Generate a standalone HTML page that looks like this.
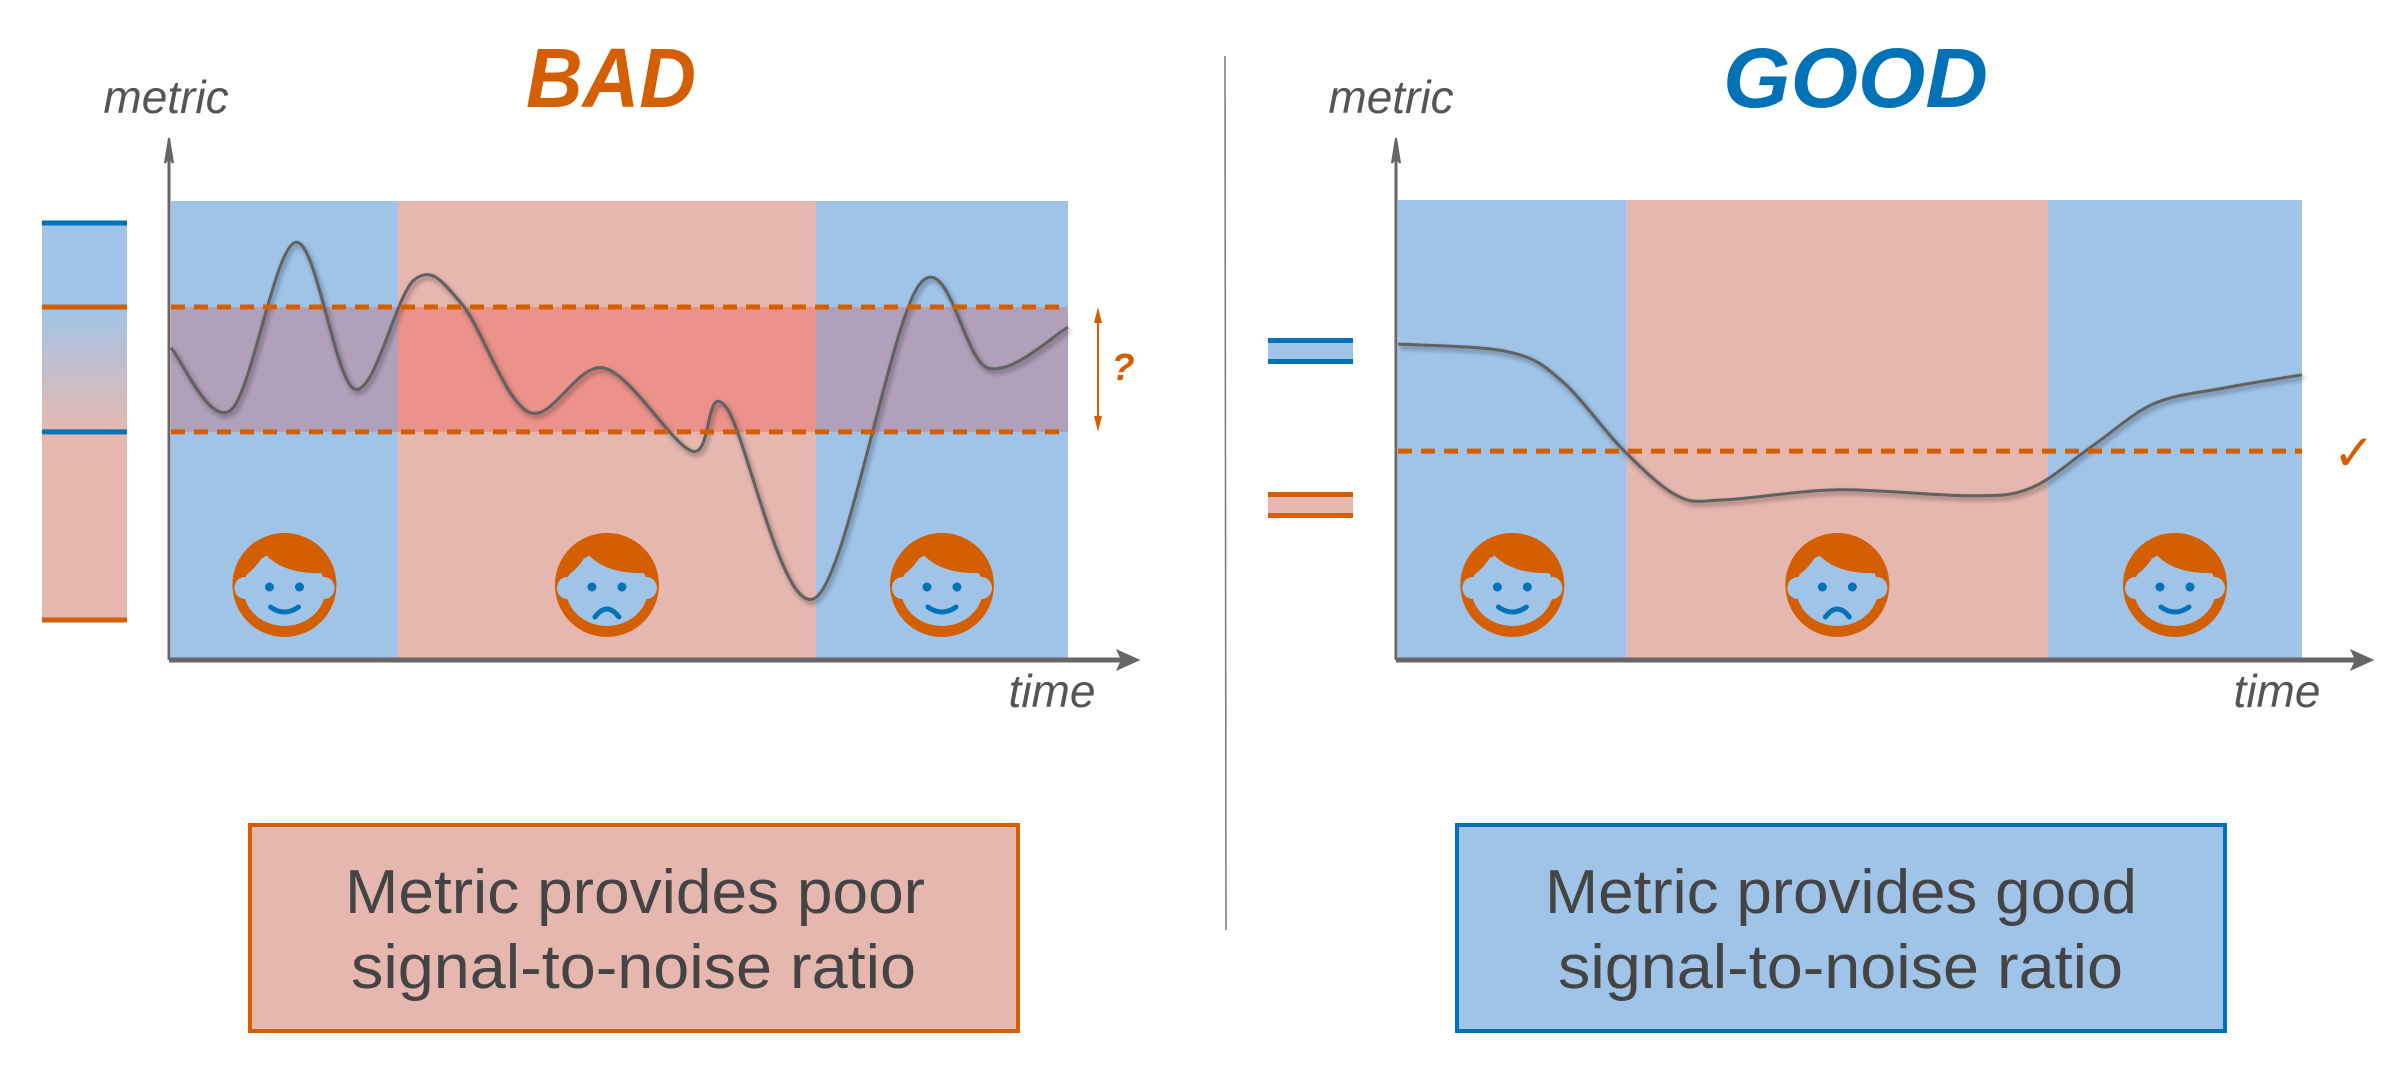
<!DOCTYPE html>
<html><head><meta charset="utf-8"><style>
html,body{margin:0;padding:0;background:#fff;}
svg{display:block;}
text{font-family:"Liberation Sans",sans-serif;}
</style></head><body>
<svg id="fig" width="2389" height="1067" viewBox="0 0 2389 1067" xmlns="http://www.w3.org/2000/svg">
<defs id="defs">
<linearGradient id="lg" x1="0" y1="0" x2="0" y2="1">
<stop offset="0" stop-color="#A0C4E8"/><stop offset="1" stop-color="#E6B7AF"/>
</linearGradient>
<filter id="sh" x="-5%" y="-5%" width="110%" height="110%"><feGaussianBlur stdDeviation="2"/></filter>
</defs>
<g id="root"></g>
<line x1="1225" y1="56" x2="1226" y2="930" stroke="#777" stroke-width="1.5"/>
<text x="526" y="107" font-size="84" font-weight="bold" font-style="italic" fill="#D45F00" textLength="170" lengthAdjust="spacingAndGlyphs">BAD</text>
<text x="1723" y="107" font-size="84" font-weight="bold" font-style="italic" fill="#0072B5" textLength="265" lengthAdjust="spacingAndGlyphs">GOOD</text>
<text x="166" y="113" font-size="46" font-style="italic" fill="#555" text-anchor="middle">metric</text>
<text x="1391" y="113" font-size="46" font-style="italic" fill="#555" text-anchor="middle">metric</text>
<text x="1052" y="707" font-size="46" font-style="italic" fill="#555" text-anchor="middle">time</text>
<text x="2277" y="707" font-size="46" font-style="italic" fill="#555" text-anchor="middle">time</text>
<g>
<rect x="250" y="825" width="768" height="206" fill="#E6B7AF" stroke="#D45F00" stroke-width="4"/>
<text x="345" y="913" font-size="62" fill="#444" textLength="580" lengthAdjust="spacingAndGlyphs">Metric provides poor</text>
<text x="351" y="988" font-size="62" fill="#444" textLength="565" lengthAdjust="spacingAndGlyphs">signal-to-noise ratio</text>
</g>
<g>
<rect x="1457" y="825" width="768" height="206" fill="#A0C4E8" stroke="#0072B5" stroke-width="4"/>
<text x="1545" y="913" font-size="62" fill="#444" textLength="592" lengthAdjust="spacingAndGlyphs">Metric provides good</text>
<text x="1558" y="988" font-size="62" fill="#444" textLength="565" lengthAdjust="spacingAndGlyphs">signal-to-noise ratio</text>
</g>
</svg>
<script>
// BAD chart data (time 0-100, metric 0-100)
const badX = [0, 6.7, 13.9, 20.5, 27.1, 32.4, 39.9, 48.3, 58.1, 61.8, 71.8, 83.4, 91.1, 100];
const badY = [68, 54.5, 91, 59, 82.8, 77.6, 54, 63.6, 45.5, 55.3, 13.5, 81.7, 63.6, 72.5];
const badThresholds = [76.9, 49.7];
// GOOD chart data
const goodX = [0, 12.2, 18.1, 24.9, 30.9, 36, 48.7, 63.2, 70, 76.8, 83.6, 91.3, 100];
const goodY = [68.7, 67, 60.7, 45.7, 35.7, 34.8, 37, 35.7, 37.4, 46.5, 55.7, 59.1, 62];
const goodThreshold = [45.4];
// phase boundaries (time units): good / bad / good
const phases = [0, 25.3, 71.9, 100];
const phaseMood = ['happy', 'sad', 'happy'];

const NS = 'http://www.w3.org/2000/svg';
const root = document.getElementById('root');
const defs = document.getElementById('defs');
function el(tag, attrs, parent) {
  const e = document.createElementNS(NS, tag);
  for (const k in attrs) e.setAttribute(k, attrs[k]);
  (parent || root).appendChild(e);
  return e;
}
function smooth(pts) {
  let d = 'M' + pts[0][0] + ',' + pts[0][1];
  for (let i = 0; i < pts.length - 1; i++) {
    const p0 = pts[Math.max(0, i - 1)], p1 = pts[i], p2 = pts[i + 1], p3 = pts[Math.min(pts.length - 1, i + 2)];
    const c1 = [p1[0] + (p2[0] - p0[0]) / 6, p1[1] + (p2[1] - p0[1]) / 6];
    const c2 = [p2[0] - (p3[0] - p1[0]) / 6, p2[1] - (p3[1] - p1[1]) / 6];
    d += ' C' + c1[0] + ',' + c1[1] + ' ' + c2[0] + ',' + c2[1] + ' ' + p2[0] + ',' + p2[1];
  }
  return d;
}
let faceId = 0;
function face(cx, cy, mood, g) {
  const id = 'fc' + (faceId++);
  const cp = el('clipPath', {id: id}, defs);
  el('circle', {cx: cx, cy: cy, r: 52}, cp);
  el('circle', {cx: cx, cy: cy, r: 52, fill: '#D45F00'}, g);
  const inner = el('g', {'clip-path': 'url(#' + id + ')'}, g);
  el('ellipse', {cx: cx, cy: cy + 4, rx: 41, ry: 37, fill: '#A0C4E8'}, inner);
  el('ellipse', {cx: cx - 40, cy: cy + 3, rx: 10, ry: 11, fill: '#A0C4E8'}, inner);
  el('ellipse', {cx: cx + 40, cy: cy + 3, rx: 10, ry: 11, fill: '#A0C4E8'}, inner);
  el('path', {d: 'M' + (cx - 55) + ',' + (cy - 2) + ' L' + (cx - 42) + ',' + (cy - 8) +
    ' Q' + (cx - 28) + ',' + (cy - 16) + ' ' + (cx - 20) + ',' + (cy - 32) +
    ' Q' + (cx - 2) + ',' + (cy - 10) + ' ' + (cx + 42) + ',' + (cy - 12) +
    ' L' + (cx + 55) + ',' + (cy - 12) + ' L' + (cx + 55) + ',' + (cy - 60) + ' L' + (cx - 55) + ',' + (cy - 60) + 'Z', fill: '#D45F00'}, inner);
  el('circle', {cx: cx - 15, cy: cy + 2, r: 4.5, fill: '#0072B5'}, g);
  el('circle', {cx: cx + 15, cy: cy + 2, r: 4.5, fill: '#0072B5'}, g);
  const d = mood === 'happy'
    ? 'M' + (cx - 14) + ',' + (cy + 22) + ' Q' + cx + ',' + (cy + 32) + ' ' + (cx + 14) + ',' + (cy + 22)
    : 'M' + (cx - 12) + ',' + (cy + 32) + ' Q' + cx + ',' + (cy + 16) + ' ' + (cx + 12) + ',' + (cy + 32);
  el('path', {d: d, fill: 'none', stroke: '#0072B5', 'stroke-width': 5, 'stroke-linecap': 'round'}, g);
}
function chart(opt) {
  const g = el('g', {});
  
  
  const sx = v => opt.x0 + (opt.x1 - opt.x0) * v / 100;
  const sy = v => opt.y0 - (opt.y0 - opt.y1) * v / 100;
  for (let i = 0; i < phases.length - 1; i++) {
    const r = el('rect', {x: sx(phases[i]), y: opt.y1, width: sx(phases[i + 1]) - sx(phases[i]), height: opt.y0 - opt.y1, fill: i % 2 ? '#E6B7AF' : '#A0C4E8'}, g);
    
    
  }
  if (opt.thr.length === 2) {
    const top = sy(Math.max(...opt.thr)), bot = sy(Math.min(...opt.thr));
    for (let i = 0; i < phases.length - 1; i++) {
      el('rect', {x: sx(phases[i]), y: top, width: sx(phases[i + 1]) - sx(phases[i]), height: bot - top, fill: i % 2 ? '#EB928A' : '#B0A0BA'}, g);
    }
  }
  for (let i = 0; i < phases.length - 1; i++) {
    const fg = el('g', {}, g);
    
    
    face(sx((phases[i] + phases[i + 1]) / 2), 585, phaseMood[i], fg);
  }
  const pts = opt.xs.map((x, i) => [sx(x), sy(opt.ys[i])]);
  el('path', {d: smooth(pts), fill: 'none', stroke: '#000', 'stroke-opacity': 0.25, 'stroke-width': 5, filter: 'url(#sh)', transform: 'translate(2,3)'}, g);
  const line = el('path', {d: smooth(pts), fill: 'none', stroke: '#616161', 'stroke-width': 3}, g);
  
  
  opt.thr.forEach(t => {
    const l = el('line', {x1: sx(0), x2: sx(100), y1: sy(t), y2: sy(t), stroke: '#D45F00', 'stroke-width': 5, 'stroke-dasharray': '14 9'}, g);
    
    
  });
  el('line', {x1: opt.x0 - 2, y1: opt.y0, x2: opt.x1 + 60, y2: opt.y0, stroke: '#666', 'stroke-width': 5}, g);
  el('path', {d: 'M' + (opt.x1 + 70) + ',' + opt.y0 + ' l-20,-9 l4,9 l-4,9z', fill: '#666', stroke: '#666', 'stroke-width': 2}, g);
  el('line', {x1: opt.x0 - 2, y1: opt.y0, x2: opt.x0 - 2, y2: 145, stroke: '#666', 'stroke-width': 3}, g);
  el('path', {d: 'M' + (opt.x0 - 2) + ',138 l-4,25 l4,-6 l4,6z', fill: '#666', stroke: '#666', 'stroke-width': 2}, g);
  return {sx: sx, sy: sy, g: g};
}
const bad = chart({name: 'bad', x0: 171, x1: 1068, y0: 660, y1: 201, xs: badX, ys: badY, thr: badThresholds});
const good = chart({name: 'good', x0: 1398, x1: 2302, y0: 660, y1: 200, xs: goodX, ys: goodY, thr: goodThreshold});

const lb = el('g', {});


const tHi = bad.sy(badThresholds[0]), tLo = bad.sy(badThresholds[1]);
el('rect', {x: 42, y: 223, width: 85, height: tHi - 223, fill: '#A0C4E8'}, lb);
el('rect', {x: 42, y: tHi, width: 85, height: tLo - tHi, fill: 'url(#lg)'}, lb);
el('rect', {x: 42, y: tLo, width: 85, height: 620 - tLo, fill: '#E6B7AF'}, lb);
[[223, '#0072B5'], [tHi, '#D45F00'], [tLo, '#0072B5'], [620, '#D45F00']].forEach(a => el('rect', {x: 42, y: a[0] - 2.5, width: 85, height: 5, fill: a[1]}, lb));
const qa = el('g', {});


el('line', {x1: 1098, y1: tHi + 4, x2: 1098, y2: tLo - 4, stroke: '#D45F00', 'stroke-width': 2}, qa);
el('path', {d: 'M1098,' + tHi + ' l-4,16 l8,0z M1098,' + tLo + ' l-4,-16 l8,0z', fill: '#D45F00'}, qa);
const q = el('text', {x: 1123, y: 380, 'font-size': 38, 'font-weight': 'bold', 'font-style': 'italic', fill: '#D45F00', 'text-anchor': 'middle'}, qa);
q.textContent = '?';
const gl = el('g', {});


el('rect', {x: 1268, y: 340, width: 85, height: 22, fill: '#A0C4E8'}, gl);
el('rect', {x: 1268, y: 338, width: 85, height: 5, fill: '#0072B5'}, gl);
el('rect', {x: 1268, y: 359, width: 85, height: 5, fill: '#0072B5'}, gl);
el('rect', {x: 1268, y: 494, width: 85, height: 22, fill: '#E6B7AF'}, gl);
el('rect', {x: 1268, y: 492, width: 85, height: 5, fill: '#D45F00'}, gl);
el('rect', {x: 1268, y: 513, width: 85, height: 5, fill: '#D45F00'}, gl);
const ck = el('text', {x: 2354, y: 470, 'font-size': 50, fill: '#D45F00', 'text-anchor': 'middle', 'font-family': 'DejaVu Sans, sans-serif'}, gl);


ck.textContent = '✓';
</script>
</body></html>
